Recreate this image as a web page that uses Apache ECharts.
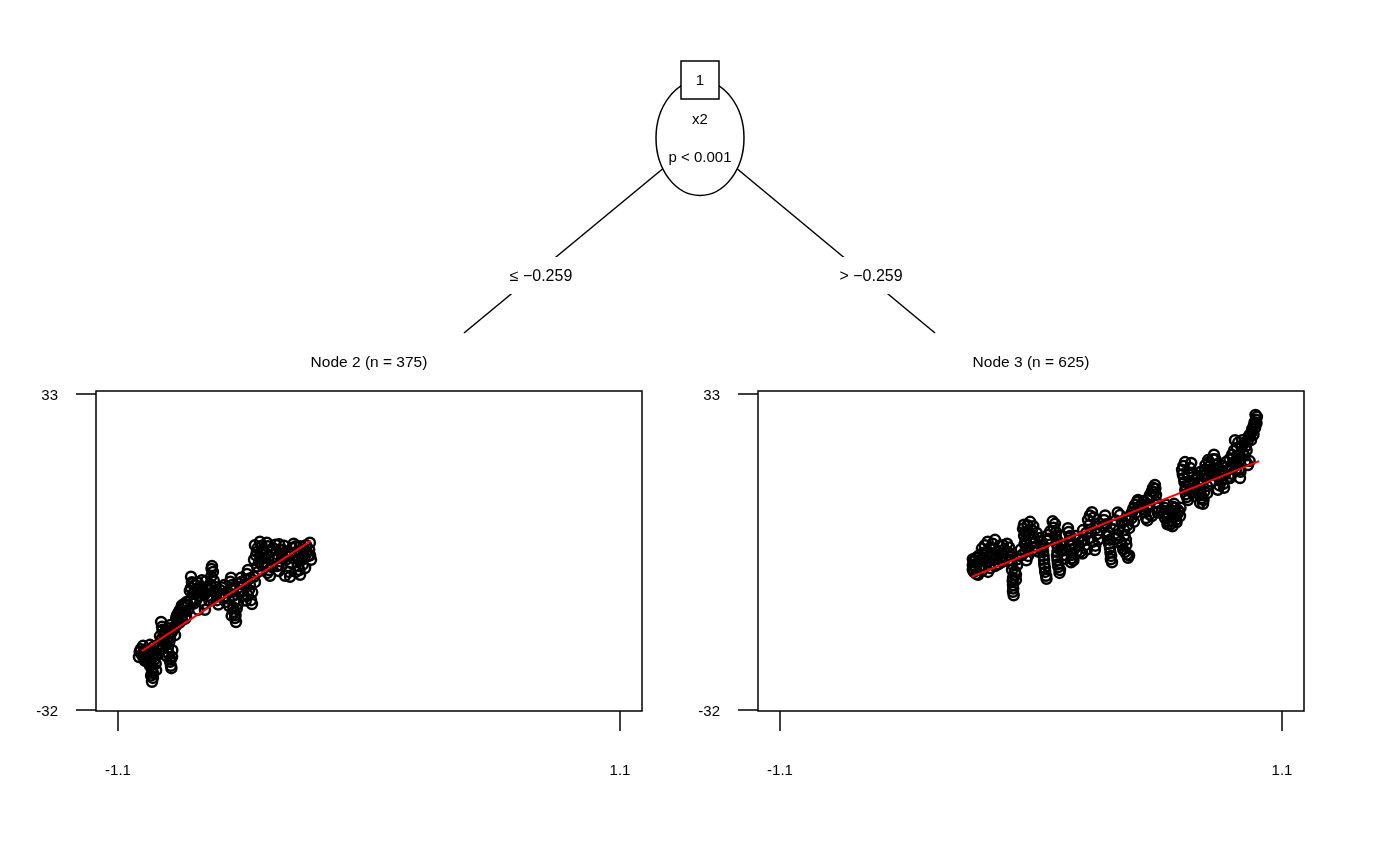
<!DOCTYPE html>
<html>
<head>
<meta charset="utf-8">
<script src="https://cdn.jsdelivr.net/npm/echarts@6/dist/echarts.min.js"></script>
<style>
html,body{margin:0;padding:0;background:#fff;}
#chart{width:1400px;height:865px;}
</style>
</head>
<body>
<div id="chart"></div>
<script>
// ---- Tree structure texts ----
const rootId = '1';
const splitVar = 'x2';
const splitP = 'p < 0.001';
const edgeLabels = ['\u2264 \u22120.259', '> \u22120.259'];
const nodeTitles = ['Node 2 (n = 375)', 'Node 3 (n = 625)'];

// ---- Axis ticks ----
const xTicks = [-1.1, 1.1];
const yTicks = [-32, 33];

// ---- Node 2 scatter points (x2 <= -0.259) ----
const node2Points = [
  [-0.995,-20.7],[-0.982,-19.7],[-0.968,-21.1],[-0.955,-20.1],[-0.942,-21.7],[-0.929,-19.2],
  [-0.982,-21.9],[-0.960,-18.6],[-0.933,-20.7],[-0.916,-19.7],[-1.008,-21.1],[-0.990,-18.8],
  [-0.951,-23.4],[-0.947,-24.4],[-0.947,-25.4],[-0.951,-26.2],[-0.960,-22.9],[-0.933,-23.8],
  [-0.872,-22.1],[-0.868,-22.9],[-0.863,-21.1],
  [-0.911,-13.9],[-0.907,-14.9],[-0.916,-16.8],[-0.898,-17.6],[-0.890,-18.6],[-0.881,-19.2],
  [-0.894,-16.0],[-0.872,-17.2],[-0.859,-15.5],[-0.850,-16.6],
  [-0.841,-12.5],[-0.828,-11.4],[-0.815,-10.8],[-0.837,-13.5],[-0.806,-11.8],[-0.819,-13.5],
  [-0.846,-14.7],[-0.793,-10.4],[-0.802,-12.7],
  [-0.780,-4.6],[-0.776,-5.7],[-0.780,-6.9],[-0.771,-8.1],[-0.758,-9.4],[-0.762,-6.3],
  [-0.745,-7.3],[-0.732,-5.3],[-0.741,-8.5],[-0.723,-10.2],[-0.714,-6.9],[-0.706,-8.5],
  [-0.688,-2.4],[-0.684,-3.6],[-0.697,-6.1],[-0.679,-7.7],[-0.666,-9.4],[-0.719,-11.4],[-0.749,-11.4],
  [-0.653,-7.3],[-0.640,-9.0],[-0.627,-9.8],[-0.613,-10.6],[-0.605,-4.8],[-0.600,-6.3],
  [-0.592,-11.8],[-0.587,-13.1],[-0.583,-13.9],[-0.596,-8.5],[-0.574,-10.2],[-0.635,-6.3],
  [-0.561,-4.8],[-0.548,-6.3],[-0.535,-4.0],[-0.526,-7.3],[-0.517,-9.4],[-0.513,-10.2],
  [-0.548,-8.5],[-0.565,-7.7],[-0.500,-5.7],[-0.530,-3.2],
  [-0.500,1.9],[-0.491,0.5],[-0.504,-1.1],[-0.478,2.6],[-0.464,0.9],[-0.456,-0.7],[-0.443,1.7],
  [-0.438,-3.2],[-0.434,-4.4],[-0.469,-2.2],[-0.486,-3.6],
  [-0.421,1.3],[-0.408,0.1],[-0.394,2.1],[-0.377,0.9],[-0.364,-1.1],[-0.351,-3.6],[-0.346,-4.6],
  [-0.337,1.3],[-0.324,-0.1],[-0.311,-2.4],[-0.302,-4.2],[-0.294,-1.1],[-0.285,0.9],[-0.276,1.9],
  [-0.267,-0.3],[-0.259,2.4],[-0.254,-1.1],[-0.280,-2.8],[-0.320,1.7],[-0.386,-2.2],[-0.368,-4.4],
  [-0.403,-2.4],[-0.302,1.7],
  [-1.000,-19.5],[-0.990,-20.2],[-0.975,-20.9],[-0.962,-19.8],[-0.950,-21.3],[-0.940,-20.3],[-0.925,-20.6],
  [-0.970,-22.0],[-0.958,-22.4],[-1.005,-20.0],[-0.985,-21.5],[-0.945,-19.0],[-0.920,-18.4],[-0.935,-22.5],
  [-0.955,-24.9],[-0.950,-23.9],
  [-0.870,-21.6],[-0.866,-23.4],[-0.878,-20.4],[-0.885,-21.0],
  [-0.905,-15.5],[-0.900,-16.3],[-0.895,-18.1],[-0.885,-17.8],[-0.875,-18.0],[-0.865,-16.0],[-0.855,-15.0],
  [-0.880,-15.2],[-0.910,-17.5],[-0.870,-14.5],[-0.862,-19.7],[-0.905,-19.4],
  [-0.845,-13.0],[-0.835,-12.0],[-0.825,-12.9],[-0.815,-11.6],[-0.810,-10.2],[-0.800,-9.8],[-0.795,-11.5],
  [-0.830,-14.0],[-0.820,-10.5],[-0.805,-13.2],
  [-0.785,-7.5],[-0.775,-6.0],[-0.765,-7.8],[-0.755,-8.0],[-0.750,-5.8],[-0.740,-6.6],[-0.735,-9.6],
  [-0.728,-7.4],[-0.720,-8.2],[-0.715,-5.5],[-0.705,-7.3],[-0.700,-9.5],[-0.692,-4.6],[-0.690,-8.9],
  [-0.680,-5.4],[-0.672,-6.7],[-0.668,-8.0],[-0.660,-10.3],[-0.782,-9.5],[-0.768,-10.1],[-0.690,-3.0],
  [-0.648,-8.2],[-0.645,-6.8],[-0.632,-8.6],[-0.620,-7.6],[-0.615,-9.1],[-0.608,-5.6],[-0.598,-7.2],
  [-0.590,-9.6],[-0.585,-12.5],[-0.595,-10.9],[-0.580,-11.2],[-0.602,-12.6],
  [-0.570,-6.0],[-0.558,-5.6],[-0.552,-7.4],[-0.540,-5.2],[-0.532,-8.4],[-0.522,-6.2],[-0.512,-7.8],
  [-0.505,-4.6],[-0.520,-4.9],[-0.540,-9.5],
  [-0.495,-0.2],[-0.488,1.3],[-0.482,-1.5],[-0.475,0.4],[-0.470,1.8],[-0.460,-1.6],[-0.452,0.2],
  [-0.448,2.4],[-0.440,-0.4],[-0.430,0.8],[-0.425,-2.6],[-0.415,-1.0],[-0.410,2.0],[-0.400,-0.8],
  [-0.390,1.0],[-0.382,-0.3],[-0.372,1.8],[-0.360,0.3],[-0.355,-2.4],[-0.345,0.0],[-0.340,-1.8],
  [-0.330,2.2],[-0.318,0.5],[-0.312,-0.9],[-0.305,-3.2],[-0.298,0.2],[-0.290,-2.1],[-0.282,-0.6],
  [-0.272,0.4],[-0.262,1.0],[-0.258,-0.2],[-0.445,-3.8],[-0.490,-2.5],[-0.468,-0.8],[-0.396,-3.4],[-0.320,-3.6]
];
const node2Fit = [[-0.996,-19.9],[-0.255,2.8]];

// ---- Node 3 scatter points (x2 > -0.259) ----
const node3Points = [
  [-0.255,-2.2],[-0.250,-3.6],[-0.241,-0.7],[-0.223,-2.8],[-0.210,0.3],[-0.197,-1.6],[-0.188,-3.6],
  [-0.171,-0.3],[-0.158,-2.4],[-0.145,0.5],[-0.136,-1.1],[-0.232,-4.2],[-0.180,1.3],[-0.123,-0.3],
  [-0.255,-3.2],[-0.202,1.9],[-0.158,3.0],[-0.123,1.9],
  [-0.092,-1.1],[-0.083,-3.2],[-0.079,-4.8],[-0.079,-6.3],[-0.079,-7.7],[-0.061,-2.2],[-0.066,-4.2],[-0.101,0.5],
  [-0.031,6.1],[-0.026,4.6],[-0.022,3.0],[-0.018,1.3],[-0.004,6.7],[0.004,5.0],[0.013,3.4],[0.022,1.7],
  [-0.039,-0.1],[-0.013,-0.3],
  [0.053,1.9],[0.053,0.5],[0.057,-1.1],[0.061,-2.8],[0.066,-4.4],[0.039,3.4],[0.074,4.0],
  [0.105,6.3],[0.110,4.6],[0.114,3.0],[0.118,1.3],[0.114,-0.3],[0.118,-2.0],[0.127,-3.2],[0.136,1.9],[0.145,-0.1],
  [0.162,5.4],[0.171,3.8],[0.171,1.9],[0.180,-0.1],[0.175,-1.6],[0.193,1.3],[0.206,3.0],[0.215,0.5],
  [0.237,1.9],[0.259,3.4],[0.228,5.0],[0.250,7.1],[0.267,8.7],[0.285,5.4],[0.294,3.0],[0.280,0.9],
  [0.320,7.1],[0.337,4.6],[0.346,3.0],[0.346,1.3],[0.351,-0.3],[0.355,-1.6],[0.368,6.1],[0.381,4.0],
  [0.399,1.9],[0.412,0.5],[0.416,3.0],[0.425,-0.7],[0.408,5.0],[0.390,8.1],[0.425,7.1],[0.443,8.7],
  [0.456,10.2],[0.469,11.2],[0.451,6.7],
  [0.486,10.2],[0.500,8.7],[0.513,11.2],[0.521,12.2],[0.535,13.7],[0.543,14.3],[0.548,12.2],[0.557,9.6],
  [0.504,7.5],[0.530,7.9],
  [0.574,9.1],[0.587,7.5],[0.600,6.7],[0.618,8.7],[0.635,7.1],[0.644,9.1],[0.592,10.2],[0.627,10.4],
  [0.653,7.9],[0.609,6.1],
  [0.662,17.4],[0.670,15.7],[0.679,14.1],[0.679,12.4],[0.688,11.2],[0.675,19.0],[0.697,17.8],[0.714,15.3],[0.706,12.8],
  [0.741,13.3],[0.749,11.6],[0.754,10.4],[0.762,17.4],[0.767,15.7],[0.771,14.1],[0.776,19.4],[0.784,18.2],
  [0.793,16.5],[0.802,20.5],[0.811,18.4],[0.741,10.6],[0.732,16.1],
  [0.828,17.0],[0.837,15.3],[0.846,13.7],[0.855,19.0],[0.863,17.4],[0.819,13.3],[0.872,15.7],
  [0.881,20.5],[0.890,19.0],[0.894,23.5],[0.903,21.9],[0.911,17.4],[0.916,15.7],[0.925,23.5],[0.933,20.5],
  [0.942,22.3],[0.960,24.4],[0.951,18.4],[0.898,17.4],
  [0.968,25.2],[0.977,26.6],[0.986,27.7],[0.990,28.3],[0.982,26.0],[0.964,23.5],
  [-0.250,-1.4],[-0.245,-2.6],[-0.236,-1.8],[-0.228,-0.2],[-0.220,-1.2],[-0.215,-3.4],[-0.205,-0.8],
  [-0.200,-2.4],[-0.192,0.6],[-0.185,-1.4],[-0.178,-2.8],[-0.175,0.2],[-0.165,-1.0],[-0.160,1.2],
  [-0.150,-0.8],[-0.142,-2.0],[-0.138,1.8],[-0.130,0.2],[-0.125,-1.5],[-0.118,1.0],[-0.112,-0.8],
  [-0.240,-4.0],[-0.215,1.2],[-0.190,2.6],[-0.168,2.2],[-0.105,2.2],[-0.255,-1.0],
  [-0.080,-5.5],[-0.078,-7.0],[-0.076,-8.4],[-0.084,-2.0],[-0.090,-0.2],[-0.070,-3.5],[-0.060,-1.0],
  [-0.066,-5.2],[-0.095,1.4],
  [-0.035,5.3],[-0.030,3.8],[-0.028,2.2],[-0.025,0.6],[-0.015,6.0],[-0.010,4.0],[0.000,2.4],[0.005,0.8],
  [0.010,5.8],[0.018,2.6],[0.025,4.4],[0.030,0.6],[-0.045,1.0],[-0.020,-1.2],
  [0.045,2.6],[0.050,1.2],[0.055,-0.3],[0.058,-2.0],[0.062,-3.6],[0.068,-5.0],[0.070,2.8],[0.078,3.2],[0.085,4.8],
  [0.100,5.5],[0.108,3.8],[0.112,2.2],[0.116,0.5],[0.116,-1.2],[0.120,-2.6],[0.125,-3.8],[0.130,1.0],
  [0.140,0.8],[0.150,-0.9],[0.132,3.8],[0.095,6.8],
  [0.165,4.6],[0.168,2.8],[0.175,1.0],[0.178,-0.8],[0.185,2.2],[0.195,3.8],[0.200,0.6],[0.210,1.8],
  [0.220,2.6],[0.225,0.2],[0.232,3.0],[0.242,4.4],[0.245,1.0],[0.255,6.0],[0.262,4.6],[0.270,2.6],
  [0.275,7.6],[0.282,1.8],[0.290,4.2],[0.298,6.4],[0.258,8.0],[0.186,-1.2],
  [0.315,5.8],[0.325,8.0],[0.330,6.2],[0.340,3.8],[0.342,2.2],[0.348,0.4],[0.350,-1.0],[0.360,5.2],
  [0.372,7.0],[0.375,3.2],[0.385,5.0],[0.392,2.6],[0.398,6.5],[0.404,1.0],[0.410,4.0],[0.418,2.0],
  [0.420,0.0],[0.422,6.0],[0.430,5.4],[0.435,8.0],[0.440,7.4],[0.448,9.4],[0.460,8.6],[0.465,10.8],
  [0.475,9.8],[0.430,-0.2],[0.380,8.6],
  [0.490,9.4],[0.495,11.0],[0.508,9.8],[0.515,10.2],[0.520,8.2],[0.525,11.8],[0.530,13.0],[0.540,12.8],
  [0.545,13.5],[0.550,10.8],[0.555,8.6],[0.510,7.0],
  [0.580,8.4],[0.585,9.6],[0.595,8.0],[0.603,7.6],[0.610,9.2],[0.615,7.0],[0.622,9.8],[0.628,7.8],
  [0.632,9.6],[0.640,8.2],[0.648,8.8],[0.655,9.6],[0.598,6.2],[0.620,5.8],[0.638,6.6],
  [0.665,16.5],[0.668,18.2],[0.672,14.9],[0.676,13.3],[0.683,11.8],[0.690,16.5],[0.695,14.5],[0.700,13.5],
  [0.702,18.8],[0.710,14.2],[0.712,16.6],[0.716,12.0],[0.720,13.8],
  [0.735,12.4],[0.738,14.6],[0.745,12.2],[0.752,15.4],[0.758,16.2],[0.760,13.0],[0.765,18.4],[0.770,16.6],
  [0.772,12.6],[0.780,19.0],[0.786,17.2],[0.790,15.0],[0.798,19.6],[0.805,17.4],[0.808,19.6],[0.815,17.6],
  [0.744,17.0],[0.756,11.2],
  [0.822,15.8],[0.826,14.2],[0.832,16.4],[0.840,18.2],[0.843,14.5],[0.850,16.4],[0.858,18.0],[0.866,16.0],
  [0.870,19.6],[0.876,17.8],[0.880,16.6],[0.885,19.8],[0.890,21.4],[0.895,18.2],
  [0.905,19.8],[0.908,23.0],[0.915,20.4],[0.918,17.0],[0.922,22.2],[0.928,21.0],[0.935,22.9],[0.940,19.2],
  [0.945,21.4],[0.950,23.4],[0.955,24.4],[0.958,19.2],[0.962,24.8],[0.970,25.8],[0.975,24.6],[0.980,27.2],
  [0.988,27.0],[0.984,28.7]
];
const node3Fit = [[-0.260,-4.6],[1.000,19.2]];

// ---- Chart ----
const FONT = '"Liberation Sans", Arial, sans-serif';
const chart = echarts.init(document.getElementById('chart'), null, {renderer: 'canvas'});

function makeX(idx) {
  return {
    type: 'value', gridIndex: idx, min: -1.1964, max: 1.1964,
    axisLine: {show: false, onZero: false},
    splitLine: {show: false},
    axisTick: {show: true, length: 20, customValues: xTicks, lineStyle: {color: '#000', width: 1.5}},
    axisLabel: {show: true, customValues: xTicks, margin: 52, color: '#000', fontSize: 15, fontFamily: FONT,
                formatter: v => String(v)}
  };
}
function makeY(idx) {
  return {
    type: 'value', gridIndex: idx, min: -32.206, max: 33.617,
    axisLine: {show: false, onZero: false},
    splitLine: {show: false},
    axisTick: {show: true, length: 20, customValues: yTicks, lineStyle: {color: '#000', width: 1.5}},
    axisLabel: {show: true, customValues: yTicks, margin: 38,
                formatter: v => '{t|' + v + '}',
                rich: {t: {color: '#000', fontSize: 15, fontFamily: FONT, padding: [4, 0, 0, 0]}}}
  };
}
const scatterStyle = {color: 'rgba(0,0,0,0)', borderColor: '#000', borderWidth: 2.5, opacity: 1};

const option = {
  animation: false,
  backgroundColor: '#fff',
  grid: [
    {left: 96, top: 391, width: 546, height: 320, show: true, borderColor: '#000', borderWidth: 1.5, backgroundColor: 'transparent'},
    {left: 758, top: 391, width: 546, height: 320, show: true, borderColor: '#000', borderWidth: 1.5, backgroundColor: 'transparent'}
  ],
  xAxis: [makeX(0), makeX(1)],
  yAxis: [makeY(0), makeY(1)],
  series: [
    {type: 'scatter', xAxisIndex: 0, yAxisIndex: 0, data: node2Points, symbol: 'circle', symbolSize: 10, itemStyle: scatterStyle, silent: true, large: false},
    {type: 'line', xAxisIndex: 0, yAxisIndex: 0, data: node2Fit, symbol: 'none', lineStyle: {color: '#FF0000', width: 2, opacity: 1}, silent: true, z: 5},
    {type: 'scatter', xAxisIndex: 1, yAxisIndex: 1, data: node3Points, symbol: 'circle', symbolSize: 10, itemStyle: scatterStyle, silent: true, large: false},
    {type: 'line', xAxisIndex: 1, yAxisIndex: 1, data: node3Fit, symbol: 'none', lineStyle: {color: '#FF0000', width: 2, opacity: 1}, silent: true, z: 5}
  ],
  graphic: {
    elements: [
      // edges
      {type: 'line', z: 1, shape: {x1: 700, y1: 138, x2: 464, y2: 333}, style: {stroke: '#000', lineWidth: 1.5}},
      {type: 'line', z: 1, shape: {x1: 700, y1: 138, x2: 935, y2: 333}, style: {stroke: '#000', lineWidth: 1.5}},
      // edge label backgrounds
      {type: 'rect', z: 2, shape: {x: 505, y: 257, width: 72, height: 37}, style: {fill: '#fff'}},
      {type: 'rect', z: 2, shape: {x: 835, y: 257, width: 74, height: 37}, style: {fill: '#fff'}},
      {type: 'text', z: 3, x: 541, y: 277, style: {text: edgeLabels[0], fill: '#000', font: '16px ' + FONT, textAlign: 'center', textVerticalAlign: 'middle'}},
      {type: 'text', z: 3, x: 871, y: 277, style: {text: edgeLabels[1], fill: '#000', font: '16px ' + FONT, textAlign: 'center', textVerticalAlign: 'middle'}},
      // inner node
      {type: 'ellipse', z: 4, shape: {cx: 700, cy: 138, rx: 44, ry: 57.5}, style: {fill: '#fff', stroke: '#000', lineWidth: 1.5}},
      {type: 'text', z: 5, x: 700, y: 120, style: {text: splitVar, fill: '#000', font: '15px ' + FONT, textAlign: 'center', textVerticalAlign: 'middle'}},
      {type: 'text', z: 5, x: 700, y: 158, style: {text: splitP, fill: '#000', font: '15px ' + FONT, textAlign: 'center', textVerticalAlign: 'middle'}},
      {type: 'rect', z: 6, shape: {x: 681, y: 61, width: 38, height: 38}, style: {fill: '#fff', stroke: '#000', lineWidth: 1.5}},
      {type: 'text', z: 7, x: 700, y: 81, style: {text: rootId, fill: '#000', font: '15px ' + FONT, textAlign: 'center', textVerticalAlign: 'middle'}},
      // terminal node titles
      {type: 'text', z: 5, x: 369, y: 363, style: {text: nodeTitles[0], fill: '#000', font: '15.5px ' + FONT, textAlign: 'center', textVerticalAlign: 'middle'}},
      {type: 'text', z: 5, x: 1031, y: 363, style: {text: nodeTitles[1], fill: '#000', font: '15.5px ' + FONT, textAlign: 'center', textVerticalAlign: 'middle'}}
    ]
  }
};
chart.setOption(option);
</script>
</body>
</html>
